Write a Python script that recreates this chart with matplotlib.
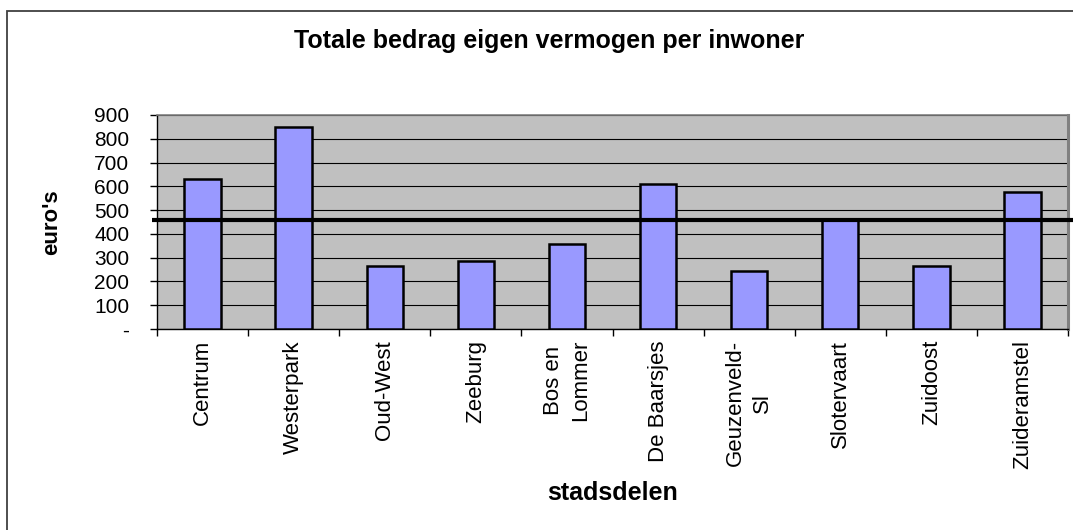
import matplotlib
matplotlib.use("Agg")
import matplotlib.pyplot as plt
from matplotlib.patches import Rectangle
from matplotlib.ticker import FixedLocator, FuncFormatter

# chart data
districts = ["Centrum", "Westerpark", "Oud-West", "Zeeburg", "Bos en\nLommer",
             "De Baarsjes", "Geuzenveld-\nSl", "Slotervaart", "Zuidoost", "Zuideramstel"]
equity_per_resident = [632, 851, 266, 284, 359, 608, 242, 464, 266, 575]
city_average = 460
y_ticks = [0, 100, 200, 300, 400, 500, 600, 700, 800, 900]

plt.rcParams["font.family"] = ["Liberation Sans", "DejaVu Sans"]

W, H = 1073, 530
fig = plt.figure(figsize=(W / 100, H / 100), dpi=100)
fig.patch.set_facecolor("white")

# chart-area border (only left/top visible in the reference)
fig.patches.append(Rectangle((7 / W, -0.05), 1.2, 1 - 11 / H + 0.05,
                             transform=fig.transFigure, fill=False,
                             edgecolor="#404040", linewidth=1.3))

# plot area in pixels: left 157, right 1068, top 115, bottom 329
left, right, top, bottom = 157, 1068, 115, 329
ax = fig.add_axes([left / W, 1 - bottom / H, (right - left) / W, (bottom - top) / H])
ax.set_facecolor("#c0c0c0")

x = list(range(len(districts)))
ax.bar(x, equity_per_resident, width=0.4, color="#9999ff",
       edgecolor="black", linewidth=1.8, zorder=3)

# average line, a little wider than the plot area
ax.plot([-0.56, len(districts) - 0.45], [city_average, city_average],
        color="black", linewidth=3.0, zorder=4, clip_on=False,
        solid_capstyle="butt")

ax.set_xlim(-0.5, len(districts) - 0.5)
ax.set_ylim(0, 900)

ax.yaxis.set_major_locator(FixedLocator(y_ticks))
ax.yaxis.set_major_formatter(FuncFormatter(lambda v, p: "-" if v == 0 else f"{v:.0f}"))
ax.grid(axis="y", color="black", linewidth=0.8, zorder=1)
ax.set_axisbelow(True)

ax.set_xticks(x)
ax.set_xticklabels(districts, rotation=90, fontsize=16, va="top", ha="center",
                   linespacing=1.4, multialignment="center")
ax.set_xticks([i - 0.5 for i in range(len(districts) + 1)], minor=True)
ax.tick_params(axis="x", which="major", length=0, pad=8)
ax.tick_params(axis="x", which="minor", length=5, width=1, direction="out")
ax.tick_params(axis="y", which="major", length=5, width=1, direction="out",
               labelsize=15, pad=15)

ax.spines["top"].set_color("#808080")
ax.spines["top"].set_linewidth(1.2)
ax.spines["right"].set_color("#808080")
ax.spines["right"].set_linewidth(2.2)
ax.spines["left"].set_linewidth(1.0)
ax.spines["bottom"].set_linewidth(1.0)

ax.set_ylabel("euro's", fontsize=16, fontweight="bold", va="center")
ax.yaxis.set_label_coords((52 - left) / (right - left), 0.5)
ax.set_xlabel("stadsdelen", fontsize=18, fontweight="bold", va="center")
ax.xaxis.set_label_coords(0.5, (bottom - 493) / (bottom - top))
fig.text(549 / W, 1 - 41 / H, "Totale bedrag eigen vermogen per inwoner",
         ha="center", va="center", fontsize=18, fontweight="bold")

fig.savefig("out.png", dpi=100)
